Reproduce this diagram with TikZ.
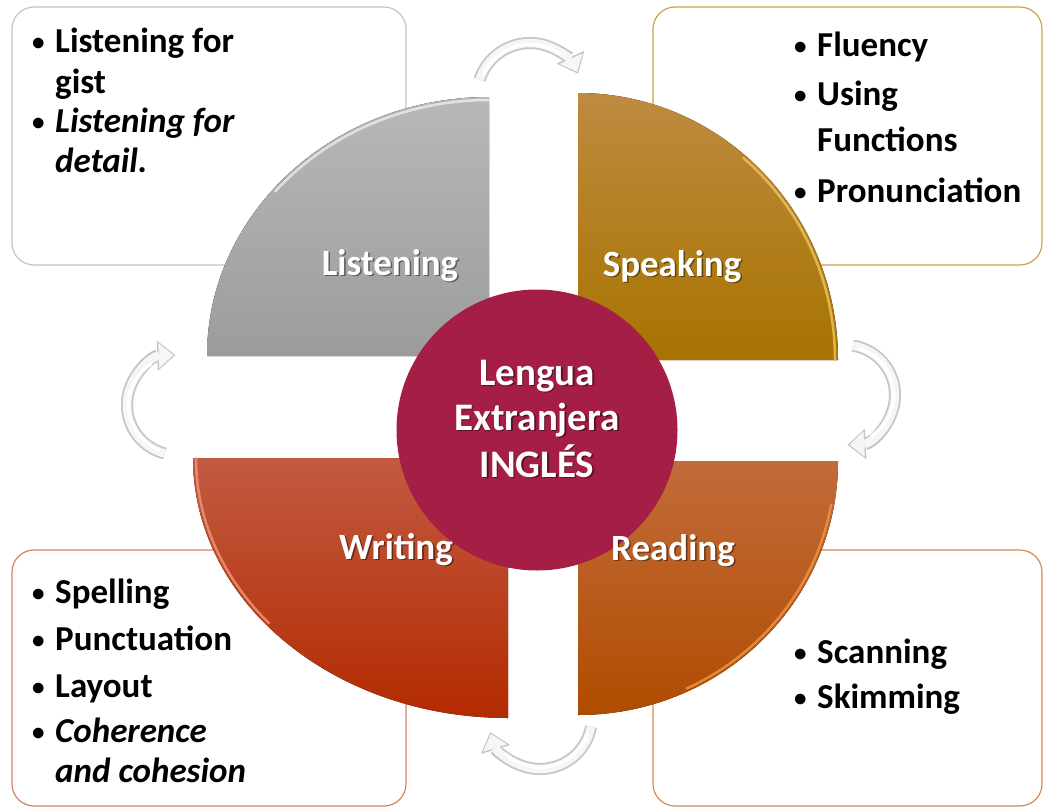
\documentclass[tikz,border=0pt]{standalone}
\usepackage{fontspec}
\setmainfont{Carlito}
\usetikzlibrary{arrows.meta}
\definecolor{cGrayT}{HTML}{B8B8B8}
\definecolor{cGrayB}{HTML}{9C9C9C}
\definecolor{cGoldT}{HTML}{BE8B40}
\definecolor{cGoldB}{HTML}{A87300}
\definecolor{cRedT}{HTML}{C25A42}
\definecolor{cRedB}{HTML}{B32A00}
\definecolor{cOrT}{HTML}{C26B3A}
\definecolor{cOrB}{HTML}{B04C00}
\definecolor{cMaroon}{HTML}{A51E46}
\definecolor{bGray}{HTML}{C4C4C4}
\definecolor{bGold}{HTML}{CDA24A}
\definecolor{bRed}{HTML}{D9805E}
\definecolor{bOr}{HTML}{D98A4E}
\newcommand{\bitem}[1]{\makebox[24pt][l]{\hspace{1pt}\raisebox{2pt}{\fontsize{25}{25}\selectfont\textbullet}}\begin{tabular}[t]{@{}l@{}}#1\end{tabular}}
\begin{document}
\begin{tikzpicture}[x=1pt,y=-1pt,
  box/.style={line width=1.2pt, rounded corners=22pt, fill=white},
  body/.style={font=\fontsize{35}{40}\selectfont\bfseries, anchor=base west, inner sep=0pt},
  lbl/.style={font=\fontsize{37}{40}\selectfont\bfseries, text=white, anchor=base, inner sep=0pt},
  lblsh/.style={lbl, text=black, text opacity=.45, xshift=1.5pt, yshift=-1.5pt},
  ctr/.style={lbl, font=\fontsize{39}{40}\selectfont\bfseries},
  ctrsh/.style={ctr, text=black, text opacity=.45, xshift=1.5pt, yshift=-1.5pt},
  cyc shadow/.style={draw=black, draw opacity=.10, fill opacity=.10, line width=12pt, -{Triangle[width=30pt,length=18pt,line width=0.8pt]}},
  cyc outer/.style={draw=gray!45, line width=12pt, -{Triangle[width=30pt,length=18pt,line width=0.8pt]}},
  cyc inner/.style={draw=gray!7, line width=8.5pt, shorten >=2pt, -{Triangle[width=25pt,length=14.5pt,line width=0.8pt]}},
  cyc hi/.style={draw=white, line width=3pt, line cap=round},
  rim/.style={line width=2.5pt, line cap=round}]
\useasboundingbox (0,0) rectangle (1044,808);

% corner boxes
\draw[box, draw=bGray] (12,7) rectangle (406,265);
\draw[box, draw=bGold] (653,7) rectangle (1042,265);
\draw[box, draw=bRed] (12,550) rectangle (406,806);
\draw[box, draw=bOr] (653,550) rectangle (1042,806);

% box texts
\node[body] (tl1) at (31,53) {\bitem{Listening for\\gist}};
\node[body] (tl2) at (31,132) {\bitem{\itshape Listening for\\\itshape detail.}};
\node[body] (tr1) at (793,57) {\bitem{Fluency}};
\node[body] (tr2) at (793,106) {\bitem{Using\\[6pt]Functions}};
\node[body] (tr3) at (793,202) {\bitem{Pronunciation}};
\node[body] (bl1) at (31,603) {\bitem{Spelling}};
\node[body] (bl2) at (31,650) {\bitem{Punctuation}};
\node[body] (bl3) at (31,697) {\bitem{Layout}};
\node[body] (bl4) at (31,742) {\bitem{\itshape Coherence\\\itshape and cohesion}};
\node[body] (br1) at (793,663) {\bitem{Scanning}};
\node[body] (br2) at (793,708) {\bitem{Skimming}};

% quarter segments
\fill[top color=cGrayT, bottom color=cGrayB] (489,356) -- (489,97) arc[start angle=-90, end angle=-180, x radius=282, y radius=259] -- cycle;
\fill[top color=cGoldT, bottom color=cGoldB] (578,360) -- (578,93) arc[start angle=-90, end angle=0, x radius=260, y radius=267] -- cycle;
\fill[top color=cRedT, bottom color=cRedB] (508,458) -- (193,458) arc[start angle=180, end angle=90, x radius=315, y radius=260] -- cycle;
\fill[top color=cOrT, bottom color=cOrB] (578,461) -- (838,461) arc[start angle=0, end angle=90, x radius=260, y radius=254] -- cycle;

% bevel highlights
\draw[rim, white, opacity=.6] (489,356) ++(-90:279 and 256) arc[start angle=-90, end angle=-140, x radius=279, y radius=256];
\draw[rim, color={rgb,255:red,236;green,196;blue,96}, opacity=.8] (578,360) ++(-50:257 and 264) arc[start angle=-50, end angle=0, x radius=257, y radius=264];
\draw[rim, color={rgb,255:red,242;green,150;blue,120}, opacity=.8] (508,458) ++(180:312 and 257) arc[start angle=180, end angle=140, x radius=312, y radius=257];
\draw[rim, color={rgb,255:red,240;green,150;blue,70}, opacity=.8] (578,461) ++(10:257 and 251) arc[start angle=10, end angle=65, x radius=257, y radius=251];

% centre
\node[circle, fill=cMaroon, minimum size=281pt, inner sep=0pt] (core) at (537,430) {};
\node[ctrsh] (c1S) at (537,385) {Lengua};
\node[ctr] (c1) at (537,385) {Lengua};
\node[ctrsh] (c2S) at (537,430) {Extranjera};
\node[ctr] (c2) at (537,430) {Extranjera};
\node[ctrsh] (c3S) at (537,477) {INGLÉS};
\node[ctr] (c3) at (537,477) {INGLÉS};

% segment labels
\node[lblsh] (lisS) at (390,275) {Listening};
\node[lbl] (lis) at (390,275) {Listening};
\node[lblsh] (speS) at (672,276) {Speaking};
\node[lbl] (spe) at (672,276) {Speaking};
\node[lblsh] (wriS) at (396,559) {Writing};
\node[lbl] (wri) at (396,559) {Writing};
\node[lblsh] (reaS) at (673,560) {Reading};
\node[lbl] (rea) at (673,560) {Reading};

% cycle arrows
\foreach \cx/\cy/\r/\sa/\ea [count=\i] in {530/96/53/-162/-25, 845/395/50/-81/87, 540/717/52/11/163, 177/405/50/104/268} {
  \coordinate (cyc\i) at (\cx,\cy);
  \draw[cyc shadow, xshift=2pt, yshift=-3pt] (cyc\i) ++(\sa:\r) arc[start angle=\sa, end angle=\ea, radius=\r];
  \draw[cyc outer] (cyc\i) ++(\sa:\r) arc[start angle=\sa, end angle=\ea, radius=\r];
  \draw[cyc inner] (cyc\i) ++(\sa:\r) arc[start angle=\sa, end angle=\ea, radius=\r];
  \draw[cyc hi] (cyc\i) ++(\sa+8:\r-1.5) arc[start angle=\sa+8, end angle=\ea-30, radius=\r-1.5];
}
\end{tikzpicture}
\end{document}
